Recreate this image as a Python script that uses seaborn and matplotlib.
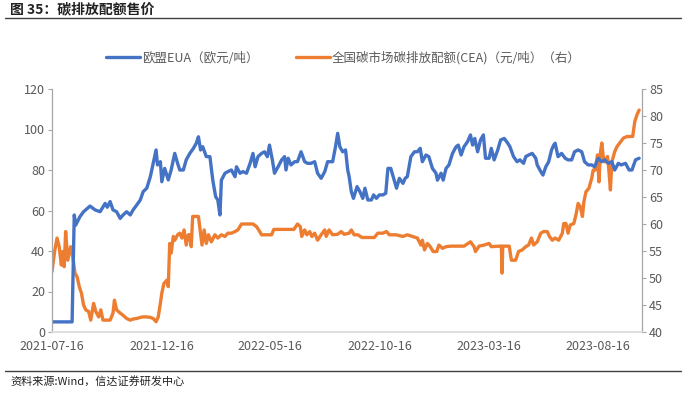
import matplotlib
matplotlib.use("Agg")
import matplotlib.pyplot as plt
import seaborn as sns
import pandas as pd
from matplotlib.lines import Line2D

start_date = "2021-07-16"
end_offset_days = 822

tick_labels = ["2021-07-16", "2021-12-16", "2022-05-16", "2022-10-16", "2023-03-16", "2023-08-16"]
left_ticks = [0, 20, 40, 60, 80, 100, 120]
right_ticks = [40, 45, 50, 55, 60, 65, 70, 75, 80, 85]

eua_label = "欧盟EUA（欧元/吨）"
cea_label = "全国碳市场碳排放配额(CEA)（元/吨）（右）"

# EUA: day offsets since start, and price (EUR/t)
eua_days = [0, 28, 31, 33, 39, 44, 53, 60, 67, 74, 77, 81, 85, 90, 95, 99, 104, 109, 113, 118,
            123, 127, 132, 137, 139, 142, 145, 147, 151, 153, 157, 162, 166, 171, 175, 178, 183,
            187, 192, 197, 201, 204, 207, 210, 215, 220, 224, 228, 231, 234, 236, 241, 245, 250,
            255, 257, 262, 266, 271, 276, 280, 283, 287, 292, 296, 300, 303, 307, 310, 315, 320,
            324, 326, 329, 333, 338, 342, 347, 352, 356, 361, 366, 370, 375, 380, 384, 391, 395,
            398, 401, 405, 409, 412, 414, 417, 420, 425, 429, 433, 436, 440, 445, 448, 452, 456,
            461, 465, 468, 472, 476, 480, 484, 489, 492, 495, 500, 505, 509, 513, 516, 521, 525,
            530, 535, 537, 542, 545, 549, 553, 558, 563, 566, 570, 574, 579, 583, 586, 589, 593,
            597, 601, 604, 609, 612, 616, 621, 625, 630, 635, 638, 643, 648, 652, 657, 660, 664,
            669, 674, 676, 681, 684, 688, 692, 696, 699, 701, 705, 710, 715, 719, 724, 728, 733,
            738, 742, 747, 752, 756, 761, 766, 770, 775, 780, 784, 789, 793, 799, 804, 808, 813,
            818]
eua_values = [5, 5, 57.8, 52.8, 57.0, 59.4, 62.2, 60.3, 59.4, 63.5, 61.6, 64.4, 60.3, 59.4, 56.1,
              57.8, 59.4, 57.8, 60.3, 62.7, 65.2, 69.3, 71.0, 76.7, 80.0, 85.0, 89.9, 82.5, 84.1,
              74.2, 80.8, 75.1, 80.0, 88.2, 83.3, 80.0, 80.0, 85.0, 88.2, 90.7, 93.2, 96.4, 89.9,
              91.5, 86.6, 86.6, 75.0, 66.8, 65.2, 57.8, 75.0, 78.4, 79.2, 80.0, 76.7, 81.6, 78.4,
              79.2, 78.4, 83.3, 88.2, 81.6, 86.6, 88.2, 89.0, 86.6, 92.3, 85.0, 78.4, 81.6, 85.0,
              86.6, 80.0, 85.8, 82.5, 84.1, 84.1, 89.0, 84.1, 83.3, 83.3, 84.1, 78.4, 75.9, 79.2,
              84.1, 84.1, 91.5, 98.1, 91.5, 89.0, 89.9, 80.0, 76.7, 69.3, 66.0, 71.8, 69.3, 66.0,
              71.0, 65.2, 65.2, 67.7, 66.0, 67.7, 67.7, 68.5, 80.8, 80.8, 75.9, 71.0, 75.9, 73.4,
              75.9, 76.7, 86.6, 89.0, 89.0, 90.7, 84.1, 87.4, 86.6, 80.8, 78.4, 75.0, 78.4, 75.0,
              80.8, 82.5, 88.2, 91.5, 92.3, 87.4, 91.5, 94.0, 97.3, 92.3, 95.6, 89.0, 94.8, 97.3,
              85.8, 85.8, 90.7, 85.0, 89.9, 94.8, 95.6, 93.2, 91.5, 86.6, 84.1, 85.0, 83.3, 86.6,
              87.4, 88.2, 85.8, 82.5, 79.2, 77.5, 81.6, 84.1, 89.9, 92.3, 93.2, 86.6, 88.2, 85.8,
              85.0, 85.0, 89.0, 89.9, 89.0, 84.1, 82.5, 82.5, 81.6, 85.8, 84.1, 85.0, 83.3, 84.1,
              80.0, 83.3, 82.5, 83.3, 80.0, 80.0, 85.0, 85.8]

# CEA: day offsets since start, and price (CNY/t)
cea_days = [0, 4, 7, 10, 13, 15, 17, 19, 22, 24, 26, 29, 32, 35, 38, 41, 44, 47, 51, 54, 58, 61,
            65, 68, 71, 76, 81, 85, 87, 90, 95, 99, 104, 109, 113, 118, 123, 127, 132, 137, 141,
            145, 148, 151, 153, 156, 160, 162, 164, 166, 169, 171, 175, 178, 181, 184, 187, 190,
            192, 194, 196, 204, 207, 209, 212, 215, 218, 222, 227, 231, 236, 241, 245, 250, 255,
            259, 264, 280, 285, 288, 292, 306, 309, 337, 342, 346, 348, 352, 355, 359, 362, 366,
            370, 375, 380, 382, 386, 391, 398, 403, 407, 414, 417, 421, 426, 432, 449, 454, 461,
            466, 470, 479, 489, 495, 502, 509, 514, 516, 519, 523, 527, 531, 536, 539, 544, 549,
            556, 574, 583, 588, 590, 595, 602, 609, 612, 623, 626, 627, 628, 637, 640, 646, 650,
            655, 660, 664, 668, 671, 676, 681, 685, 690, 693, 697, 701, 706, 711, 713, 716, 719,
            722, 727, 730, 733, 736, 739, 741, 744, 748, 752, 754, 757, 760, 762, 764, 766, 768,
            770, 774, 776, 778, 780, 784, 787, 792, 796, 801, 809, 812, 815, 818]
cea_values = [51.2, 55.2, 57.4, 55.8, 52.4, 54.9, 52.1, 58.6, 53.3, 54.6, 55.8, 53.9, 50.9, 50.2,
              48.4, 47.2, 45.0, 44.1, 43.8, 42.2, 45.3, 43.8, 42.8, 44.1, 42.2, 42.2, 42.2, 43.5,
              45.9, 44.1, 43.5, 43.1, 42.5, 42.2, 42.4, 42.5, 42.7, 42.8, 42.8, 42.7, 42.5, 41.9,
              42.8, 45.3, 47.2, 49.0, 49.6, 48.4, 56.4, 54.6, 57.7, 57.0, 58.0, 58.3, 57.4, 58.9,
              56.1, 58.0, 58.0, 55.8, 61.4, 61.4, 58.3, 56.1, 58.9, 56.4, 58.0, 56.7, 58.0, 57.4,
              58.0, 57.7, 58.3, 58.3, 58.6, 58.9, 60.0, 60.0, 59.5, 58.9, 58.0, 58.0, 59.0, 59.0,
              60.0, 59.5, 57.7, 58.9, 58.0, 58.6, 57.7, 58.3, 57.0, 58.0, 58.9, 57.7, 58.9, 58.0,
              58.1, 58.6, 58.1, 58.3, 58.9, 58.0, 58.0, 57.5, 57.5, 58.3, 58.3, 58.6, 58.0, 58.0,
              57.7, 58.0, 57.7, 57.4, 56.1, 57.0, 55.2, 56.4, 55.8, 54.9, 54.9, 56.1, 55.5, 55.8,
              55.9, 55.9, 56.7, 55.8, 54.9, 55.9, 56.1, 56.4, 55.8, 55.9, 55.9, 50.9, 55.9, 55.9,
              53.3, 53.3, 54.9, 55.2, 55.8, 56.1, 57.4, 56.1, 56.7, 58.3, 58.6, 58.6, 57.7, 57.0,
              57.4, 57.0, 58.3, 60.1, 60.1, 58.3, 59.8, 60.1, 61.7, 63.8, 63.2, 61.4, 64.1, 66.0,
              66.6, 68.5, 70.0, 70.0, 72.8, 67.8, 73.1, 75.0, 72.5, 71.5, 72.5, 69.7, 66.3, 71.5,
              73.4, 74.3, 75.2, 75.9, 76.2, 76.2, 79.0, 80.2, 81.1]

blue = "#4472C4"
orange = "#ED7D31"
grey_text = "#595959"

sns.set_theme(style="white")
plt.rcParams["font.family"] = ["Noto Sans CJK SC", "DejaVu Sans"]

t0 = pd.Timestamp(start_date)
eua_df = pd.DataFrame({"date": t0 + pd.to_timedelta(eua_days, unit="D"), "value": eua_values})
cea_df = pd.DataFrame({"date": t0 + pd.to_timedelta(cea_days, unit="D"), "value": cea_values})

fig = plt.figure(figsize=(6.87, 3.99), dpi=100)
ax = fig.add_axes([52 / 687, 1 - 332 / 399, (642 - 52) / 687, (332 - 89) / 399])
ax2 = ax.twinx()

sns.lineplot(data=eua_df, x="date", y="value", ax=ax, color=blue, linewidth=2.4, legend=False)
sns.lineplot(data=cea_df, x="date", y="value", ax=ax2, color=orange, linewidth=2.4, legend=False)

ax.set_zorder(ax2.get_zorder() + 1)
ax.patch.set_visible(False)

ax.set_xlim(t0, t0 + pd.Timedelta(days=end_offset_days))
ax.set_ylim(0, 120)
ax2.set_ylim(40, 85)
ax.set_yticks(left_ticks)
ax.set_yticklabels([str(v) for v in left_ticks])
ax2.set_yticks(right_ticks)
ax2.set_yticklabels([str(v) for v in right_ticks])
ax.set_xticks(pd.to_datetime(tick_labels))
ax.set_xticklabels(tick_labels)
ax.set_xlabel("")
ax.set_ylabel("")
ax2.set_xlabel("")
ax2.set_ylabel("")

for a in (ax, ax2):
    a.tick_params(axis="both", labelsize=9, colors=grey_text, length=3, width=0.8, pad=2)
    a.spines["top"].set_visible(False)
    for s in ("left", "right", "bottom"):
        a.spines[s].set_color("#a6a6a6")
        a.spines[s].set_linewidth(0.9)
ax.tick_params(axis="x", length=0, pad=6)
ax.spines["bottom"].set_color("#d9d9d9")
ax.spines["bottom"].set_linewidth(1.2)
ax.spines["right"].set_visible(False)
ax2.spines["left"].set_visible(False)
ax2.spines["bottom"].set_visible(False)
ax.tick_params(axis="y", left=True, color="#a6a6a6")
ax2.tick_params(axis="y", right=True, color="#a6a6a6")
for lbl in ax.get_xticklabels() + ax.get_yticklabels() + ax2.get_yticklabels():
    lbl.set_color(grey_text)

handles = [Line2D([0], [0], color=blue, linewidth=2.4), Line2D([0], [0], color=orange, linewidth=2.4)]
fig.legend(handles, [eua_label, cea_label], loc="center", bbox_to_anchor=(0.5, 1 - 58 / 399),
           ncol=2, frameon=False, fontsize=9, labelcolor=grey_text, handlelength=2.7,
           handletextpad=0.15, columnspacing=3.0)

fig.text(10 / 687, 1 - 9 / 399, "图 35：碳排放配额售价", fontsize=10, fontweight="bold",
         color="#222222", ha="left", va="center")
fig.add_artist(Line2D([5 / 687, 681 / 687], [1 - 18 / 399, 1 - 18 / 399], color="#404040", linewidth=1.0))
fig.add_artist(Line2D([5 / 687, 681 / 687], [1 - 371 / 399, 1 - 371 / 399], color="#404040", linewidth=1.0))
fig.text(10 / 687, 1 - 381 / 399, "资料来源:Wind，信达证券研发中心", fontsize=8, fontstyle="italic",
         color="#222222", ha="left", va="center")

fig.savefig("out.png", dpi=100)
